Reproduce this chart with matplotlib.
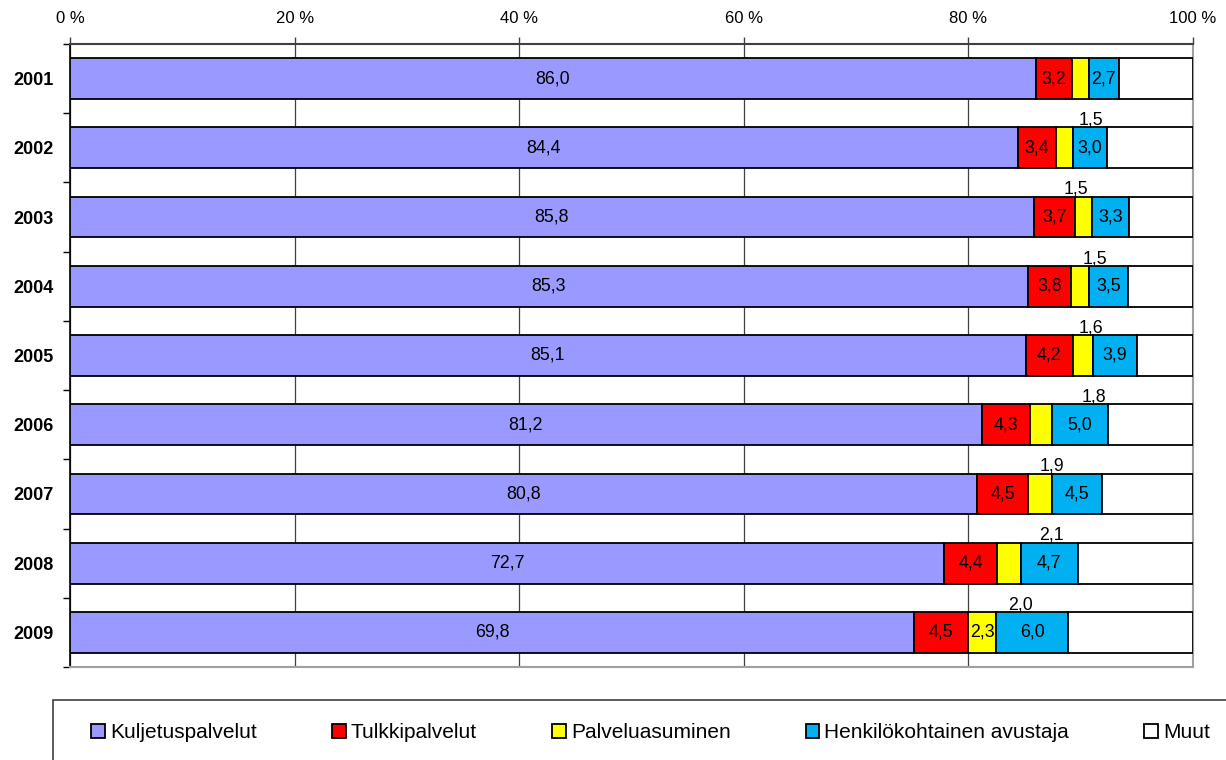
import numpy as np
import matplotlib
matplotlib.use("Agg")
import matplotlib.pyplot as plt
from matplotlib.patches import Rectangle

plt.rcParams['font.family'] = ['Liberation Sans', 'DejaVu Sans']

# --- data ---
years = ["2001", "2002", "2003", "2004", "2005", "2006", "2007", "2008", "2009"]
kuljetus = [86.0, 84.4, 85.8, 85.3, 85.1, 81.2, 80.8, 72.7, 69.8]
tulkki = [3.2, 3.4, 3.7, 3.8, 4.2, 4.3, 4.5, 4.4, 4.5]
asuminen = [1.5, 1.5, 1.5, 1.6, 1.8, 1.9, 2.1, 2.0, 2.3]
avustaja = [2.7, 3.0, 3.3, 3.5, 3.9, 5.0, 4.5, 4.7, 6.0]
muut = [6.6, 7.7, 5.7, 5.8, 5.0, 7.6, 8.1, 9.6, 10.3]

series_names = ["Kuljetuspalvelut", "Tulkkipalvelut", "Palveluasuminen",
                "Henkilökohtainen avustaja", "Muut"]
colors = ["#9999FF", "#FF0000", "#FFFF00", "#00B0F0", "#FFFFFF"]

series = np.array([kuljetus, tulkki, asuminen, avustaja, muut])
totals = series.sum(axis=0)
shares = series / totals * 100  # 100 % pinottu


def fmt(v):
    return f"{v:.1f}".replace(".", ",")


fig = plt.figure(figsize=(12.26, 7.6), dpi=100)
ax = fig.add_axes([70 / 1226, 1 - 667 / 760, 1123 / 1226, 623 / 760])

y = np.arange(len(years))
left = np.zeros(len(years))
bars = []
for k, (name, col) in enumerate(zip(series_names, colors)):
    b = ax.barh(y, shares[k], left=left, height=0.59, color=col,
                edgecolor="black", linewidth=1.3, label=name, zorder=3)
    bars.append(b)
    if k < 4:
        for i in range(len(years)):
            xc = left[i] + shares[k][i] / 2
            txt = fmt(series[k][i])
            if k == 2 and shares[k][i] < 2.3:
                # kapea osa: arvo palkin alle
                ax.text(xc + 1.0, i + 0.6, txt, ha="center", va="center",
                        fontsize=12.8, zorder=4)
            else:
                ax.text(xc, i, txt, ha="center", va="center",
                        fontsize=12.8, zorder=4)
    left = left + shares[k]

# --- akselit ---
ax.set_xlim(0, 100)
ax.set_ylim(len(years) - 0.5, -0.5)
ax.xaxis.tick_top()
ax.set_xticks(range(0, 101, 20))
ax.set_xticklabels([f"{v} %" for v in range(0, 101, 20)], fontsize=12)
ax.tick_params(axis="x", direction="out", length=5, width=1, color="#404040", pad=8)

ax.set_yticks(y)
ax.set_yticklabels(years, fontsize=13, fontweight="bold")
ax.set_yticks(np.arange(-0.5, len(years), 1), minor=True)
ax.tick_params(axis="y", which="major", length=0, pad=12)
ax.tick_params(axis="y", which="minor", direction="out", length=5, width=1, color="black")

ax.xaxis.grid(True, color="#404040", linewidth=0.9)
ax.set_axisbelow(True)

ax.spines["top"].set_color("#404040")
ax.spines["top"].set_linewidth(1.5)
ax.spines["left"].set_color("black")
ax.spines["left"].set_linewidth(1.2)
for s in ("right", "bottom"):
    ax.spines[s].set_color("#a0a0a0")
    ax.spines[s].set_linewidth(1.5)

# --- selite ---
fig.add_artist(Rectangle((53 / 1226, -0.05), 1.0, 0.05 + (1 - 700 / 760),
                         transform=fig.transFigure, fill=False,
                         edgecolor="#404040", linewidth=1.2, clip_on=False))
fig.legend(bars, series_names, ncol=5, loc="center left",
           bbox_to_anchor=(91 / 1226, 1 - 733 / 760), frameon=False,
           fontsize=15, handlelength=0.67, handleheight=0.67,
           handletextpad=0.24, columnspacing=3.6, borderpad=0, borderaxespad=0)

fig.savefig("out.png", dpi=100)
